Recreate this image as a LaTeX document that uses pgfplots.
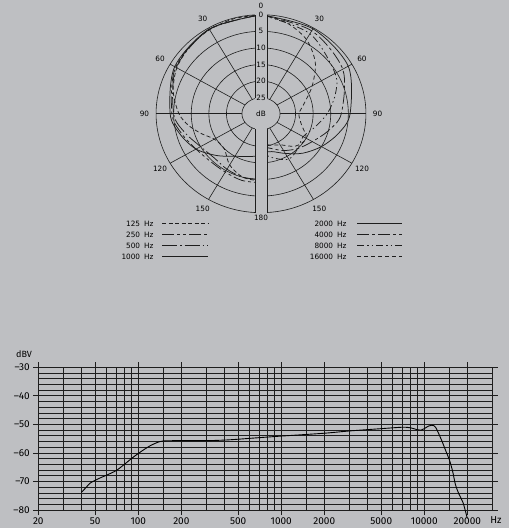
\documentclass[border=0pt]{standalone}
\usepackage{fontspec}
\setmainfont{Fira Sans}
\newfontfamily\polarfont{DejaVu Sans}
\usepackage{pgfplots}
\usepackage{pgfplotstable}
\pgfplotsset{compat=1.18}

\definecolor{bg}{RGB}{190,191,194}
\definecolor{ink}{RGB}{30,30,30}

% frequency response, Hz / dBV
\pgfplotstableread{
f db
40 -73.8
43 -72.2
46 -70.6
50 -69.6
55 -68.6
60 -67.8
70 -66.2
80 -64.0
90 -61.9
100 -60.2
110 -58.8
120 -57.6
135 -56.4
150 -55.8
200 -55.7
300 -55.7
400 -55.5
500 -55.2
600 -54.9
1000 -54.1
2000 -53.1
3000 -52.3
5000 -51.5
7000 -51.0
8000 -51.2
9000 -51.9
9500 -52.0
10000 -51.5
10700 -50.6
11300 -50.3
12000 -51.0
13200 -55.5
14200 -59.5
15000 -62.5
15800 -66.5
16500 -71.0
17500 -74.5
18700 -77.5
20000 -83.0
}\response

% polar patterns: angle from front (deg), attenuation (dB)
\pgfplotstableread{
a db
0 0
15 0.2
30 0.6
45 1.2
60 2.2
75 4
90 6.5
100 9
110 12
120 14.5
135 15
150 12
165 10
180 9.5
}\pA
\pgfplotstableread{
a db
0 0
30 0.4
60 1.8
90 4.5
105 6.5
120 8.5
135 9.5
150 9.5
165 9
180 9
}\pB
\pgfplotstableread{
a db
0 0
30 0.5
60 2
90 5
105 7.5
120 10
135 11
150 10.5
165 10
180 10
}\pC
\pgfplotstableread{
a db
0 0
30 0.4
60 1.5
90 4
105 6
120 8.5
135 12
150 15
165 16.5
180 17
}\pD
\pgfplotstableread{
a db
0 0
30 0.3
60 1.2
90 4.5
105 7
120 10
135 13
150 16
165 18
180 18
}\pE
\pgfplotstableread{
a db
0 0
30 1
60 3
90 7
105 10
120 13
135 15
150 17
165 19
180 20
}\pF
\pgfplotstableread{
a db
0 0
30 2
60 5.5
75 8
90 11
105 14
120 16
135 15
150 14
165 16
180 18
}\pG
\pgfplotstableread{
a db
0 0
15 1.5
30 4
45 8
60 13
75 17
90 19
105 18
120 15
135 16
150 19
165 20
180 21
}\pH

\tikzset{
  gridl/.style={ink, line width=0.6pt},
  crv/.style={ink, line width=0.75pt},
  s125/.style={crv, dash pattern=on 4pt off 2.5pt},
  s250/.style={crv, dash pattern=on 12pt off 3pt on 3pt off 3pt on 3pt off 3pt},
  s500/.style={crv, dash pattern=on 15pt off 3pt on 1.5pt off 3pt},
  s1000/.style={crv},
  s2000/.style={crv},
  s4000/.style={crv, dash pattern=on 12pt off 3pt on 3pt off 3pt},
  s8000/.style={crv, dash pattern=on 7pt off 3pt on 1.5pt off 3pt on 1.5pt off 3pt},
  s16000/.style={crv, dash pattern=on 4pt off 3pt},
}
\newcommand\lab{\polarfont\fontsize{7.3}{9}\selectfont}
\newcommand\hz[1]{#1\hspace{0.55em}Hz}

\begin{document}
\begin{tikzpicture}
\fill[bg] (0,0) rectangle (509pt,528pt);

% ---------------- polar diagram
\begin{axis}[
    at={(123.2pt,304.3pt)}, anchor=south west,
    scale only axis, width=275.6pt, height=220pt,
    xmin=-130, xmax=130, ymin=-110, ymax=110,
    hide axis, clip=false,
]
\pgfplotsinvokeforeach{99,82.4,65.8,49.2,32.6}{
  \draw[gridl] (axis cs:0,0) ellipse [x radius=#1, y radius=#1];
}
\pgfplotsinvokeforeach{30,60,90,120,150,210,240,270,300,330}{
  \draw[gridl] (axis cs:{10*sin(#1)},{10*cos(#1)}) -- (axis cs:{99*sin(#1)},{99*cos(#1)});
}

\addplot[s125, smooth, data cs=polar] table[x expr={90+\thisrow{a}}, y expr={99-3.32*\thisrow{db}}] {\pA};
\addplot[s250, smooth, data cs=polar] table[x expr={90+\thisrow{a}}, y expr={99-3.32*\thisrow{db}}] {\pB};
\addplot[s500, smooth, data cs=polar] table[x expr={90+\thisrow{a}}, y expr={99-3.32*\thisrow{db}}] {\pC};
\addplot[s1000, smooth, data cs=polar] table[x expr={90+\thisrow{a}}, y expr={99-3.32*\thisrow{db}}] {\pD};
\addplot[s2000, smooth, data cs=polar] table[x expr={90-\thisrow{a}}, y expr={99-3.32*\thisrow{db}}] {\pE};
\addplot[s4000, smooth, data cs=polar] table[x expr={90-\thisrow{a}}, y expr={99-3.32*\thisrow{db}}] {\pF};
\addplot[s8000, smooth, data cs=polar] table[x expr={90-\thisrow{a}}, y expr={99-3.32*\thisrow{db}}] {\pG};
\addplot[s16000, smooth, data cs=polar] table[x expr={90-\thisrow{a}}, y expr={99-3.32*\thisrow{db}}] {\pH};

% centre and vertical slot
\fill[bg] (axis cs:0,0) ellipse [x radius=18, y radius=16];
\draw[gridl] (axis cs:0,0) ellipse [x radius=18, y radius=16];
\fill[bg] (axis cs:-5.66,-101) rectangle (axis cs:5.66,101);
\draw[gridl] (axis cs:-5.66,15.2) -- (axis cs:-5.66,98.84);
\draw[gridl] (axis cs:5.66,15.2) -- (axis cs:5.66,98.84);
\draw[gridl] (axis cs:-5.66,-15.2) -- (axis cs:-5.66,-98.84);
\draw[gridl] (axis cs:5.66,-15.2) -- (axis cs:5.66,-98.84);
\node[font=\lab] at (axis cs:0,0) {dB};
\node[font=\lab] at (axis cs:0,99) {0};
\node[font=\lab] at (axis cs:0,82.4) {5};
\node[font=\lab] at (axis cs:0,65.8) {10};
\node[font=\lab] at (axis cs:0,49.2) {15};
\node[font=\lab] at (axis cs:0,32.6) {20};
\node[font=\lab] at (axis cs:0,16) {25};
\node[font=\lab] at (axis cs:0,107.5) {0};
\node[font=\lab] at (axis cs:0,-104.5) {180};
\pgfplotsinvokeforeach{30,60,90,120,150}{
  \node[font=\lab] at (axis cs:{-110*sin(#1)},{110*cos(#1)}) {#1};
  \node[font=\lab] at (axis cs:{110*sin(#1)},{110*cos(#1)}) {#1};
}
\end{axis}

% legend of the polar diagram
\begin{scope}[font=\lab]
\node[anchor=east] at (157pt,304.3pt) {\hz{125}};
\node[anchor=east] at (157pt,293.3pt) {\hz{250}};
\node[anchor=east] at (157pt,282.3pt) {\hz{500}};
\node[anchor=east] at (157pt,271.3pt) {\hz{1000}};
\draw[s125] (162pt,304.3pt) -- (208pt,304.3pt);
\draw[s250] (162pt,293.3pt) -- (208pt,293.3pt);
\draw[s500] (162pt,282.3pt) -- (208pt,282.3pt);
\draw[s1000] (162pt,271.3pt) -- (208pt,271.3pt);
\node[anchor=east] at (350pt,304.3pt) {\hz{2000}};
\node[anchor=east] at (350pt,293.3pt) {\hz{4000}};
\node[anchor=east] at (350pt,282.3pt) {\hz{8000}};
\node[anchor=east] at (350pt,271.3pt) {\hz{16000}};
\draw[s2000] (357pt,304.3pt) -- (402pt,304.3pt);
\draw[s4000] (357pt,293.3pt) -- (402pt,293.3pt);
\draw[s8000] (357pt,282.3pt) -- (402pt,282.3pt);
\draw[s16000] (357pt,271.3pt) -- (402pt,271.3pt);
\end{scope}

% ---------------- frequency response
\begin{axis}[
    at={(38.3pt,18pt)}, anchor=south west,
    scale only axis, width=454.2pt, height=142.7pt,
    xmode=log, xmin=20, xmax=30000, ymin=-80, ymax=-30,
    xtick={20,50,100,200,500,1000,2000,5000,10000,20000},
    xticklabels={20,50,100,200,500,1000,2000,5000,10000,20000},
    minor xtick={30,40,60,70,80,90,150,300,400,600,700,800,900,1500,3000,4000,6000,7000,8000,9000,15000},
    ytick={-80,-70,-60,-50,-40,-30},
    yticklabels={--80,--70,--60,--50,--40,--30},
    minor ytick={-78,-76,...,-32},
    grid=both,
    major grid style={ink, line width=0.7pt},
    minor grid style={ink, line width=0.7pt},
    tick align=outside, major tick length=5pt, minor tick length=0pt,
    tick style={ink, line width=0.7pt},
    axis line style={ink, line width=0.8pt},
    ticklabel style={font=\fontsize{10}{12}\selectfont},
    xticklabel style={yshift=1pt},
    clip=false,
]
\addplot[black, line width=0.9pt, smooth] table[x=f, y=db] {\response};
\end{axis}
\node[font=\fontsize{9}{11}\selectfont] at (24pt,174pt) {dBV};
\node[font=\fontsize{10}{12}\selectfont] at (496pt,7.5pt) {Hz};

\pgfresetboundingbox
\path (0,0) rectangle (509pt,528pt);
\end{tikzpicture}
\end{document}
